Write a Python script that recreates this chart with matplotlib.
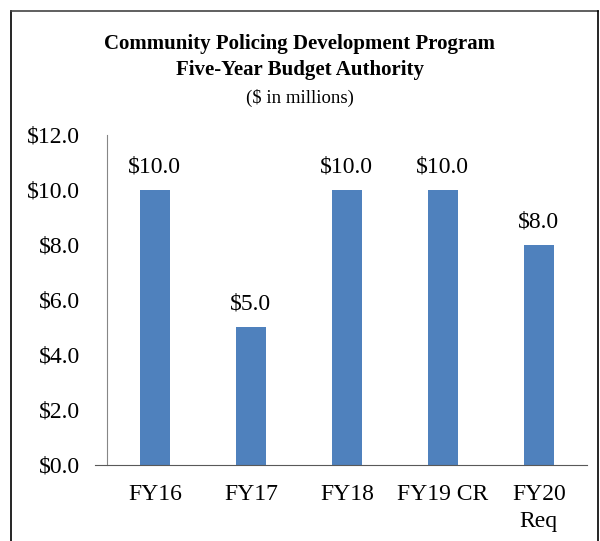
import matplotlib.pyplot as plt
from matplotlib.lines import Line2D

categories = ["FY16", "FY17", "FY18", "FY19 CR", "FY20\nReq"]
values = [10.0, 5.0, 10.0, 10.0, 8.0]
yticks = [0, 2, 4, 6, 8, 10, 12]

plt.rcParams['font.family'] = ['Liberation Serif', 'DejaVu Serif']

fig = plt.figure(figsize=(6, 5.41), dpi=100)
ax = fig.add_axes([0.178, 0.1405, 0.80, 0.61])

x = range(len(categories))
bars = ax.bar(x, values, width=0.31, color='#4f81bd')

for xi, v in zip(x, values):
    ax.annotate(f"${v:.1f}", (xi, v), xytext=(0, 9), textcoords='offset points',
                ha='center', va='bottom', fontsize=17)

ax.set_xlim(-0.5, len(categories) - 0.5)
ax.set_ylim(0, 12)
ax.set_yticks(yticks)
ax.set_yticklabels([f"${t:.1f}" for t in yticks], fontsize=17)
ax.set_xticks(list(x))
ax.set_xticklabels(categories, fontsize=17, linespacing=1.35, va='top')
ax.tick_params(axis='x', length=0, pad=14)
ax.tick_params(axis='y', length=0, pad=19)

for s in ['top', 'right']:
    ax.spines[s].set_visible(False)
ax.spines['left'].set_color('#868686')
ax.spines['bottom'].set_color('#595959')
ax.spines['bottom'].set_bounds(-0.62, len(categories) - 0.5)

fig.text(0.5, 0.918, "Community Policing Development Program", ha='center', va='center',
         fontsize=15, fontweight='bold')
fig.text(0.5, 0.870, "Five-Year Budget Authority", ha='center', va='center',
         fontsize=15, fontweight='bold')
fig.text(0.5, 0.818, "($ in millions)", ha='center', va='center', fontsize=13.5)

# outer frame (bottom edge falls outside the image)
fig.add_artist(Line2D([0.019, 0.019], [0, 0.98], color='black', lw=1.2))
fig.add_artist(Line2D([0.019, 0.997], [0.98, 0.98], color='#444444', lw=1.2))
fig.add_artist(Line2D([0.997, 0.997], [0, 0.98], color='black', lw=1.2))

fig.savefig("out.png", dpi=100)
